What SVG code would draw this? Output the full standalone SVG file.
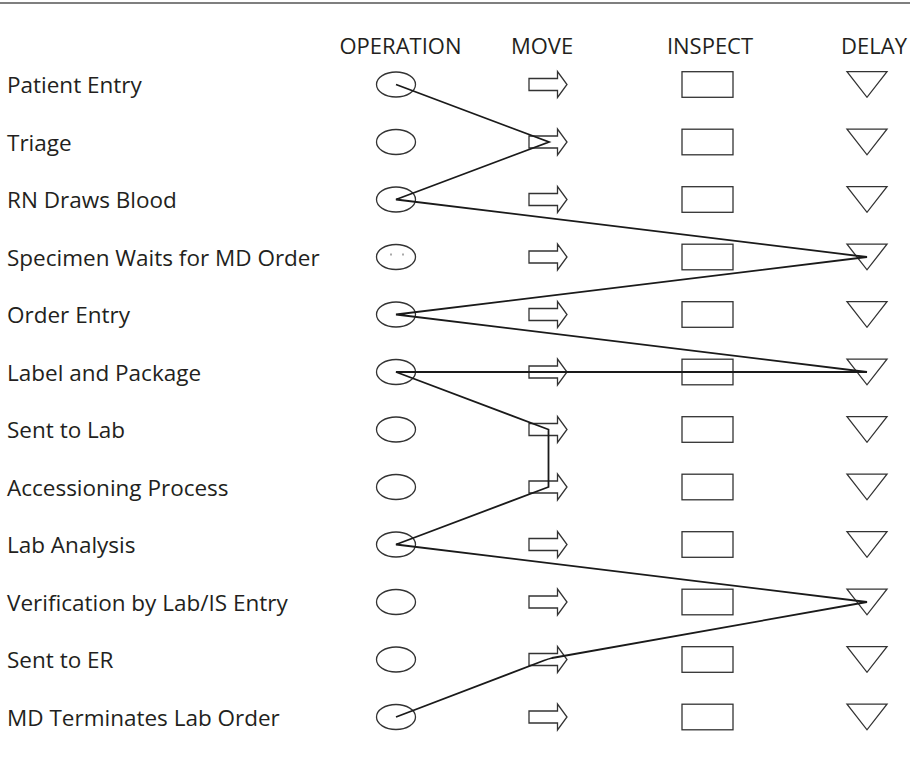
<svg xmlns="http://www.w3.org/2000/svg" width="910" height="763" viewBox="0 0 910 763">
<style>
.bg{fill:#fff}
.hdr{font-family:"Open Sans","Noto Sans","Liberation Sans",sans-serif;font-size:22px;fill:#231f20;text-anchor:middle}
.lbl{font-family:"Open Sans","Noto Sans","Liberation Sans",sans-serif;font-size:22.5px;fill:#231f20}
.shp{fill:#fff;stroke:#333;stroke-width:1.3}
.conn{fill:none;stroke:#1a1a1a;stroke-width:1.8;stroke-linejoin:miter}
</style>
<defs>
<ellipse id="op" cx="0" cy="0" rx="19.5" ry="12.5" class="shp"/>
<rect id="in" x="-25.5" y="-12.8" width="51" height="25.6" class="shp"/>
<polygon id="dl" points="-20,-12.8 20,-12.8 0,12.8" class="shp"/>
<polygon id="arrow" points="-19,-6 9.5,-6 9.5,-13 19,0 9.5,13 9.5,6 -19,6" class="shp"/>
</defs>
<rect class="bg" x="0" y="0" width="910" height="763"/>
<line x1="0" y1="3" x2="910" y2="3" stroke="#555" stroke-width="1.6"/>
<g id="headers">
<text class="hdr" x="400.5" y="53.5">OPERATION</text>
<text class="hdr" x="542" y="53.5">MOVE</text>
<text class="hdr" x="710" y="53.5">INSPECT</text>
<text class="hdr" x="874" y="53.5">DELAY</text>
</g>
<g id="row1" transform="translate(0,84.5)"><text class="lbl" x="7" y="8.5">Patient Entry</text><use href="#op" x="396"/><use href="#arrow" x="548"/><use href="#in" x="707.5"/><use href="#dl" x="867"/></g>
<g id="row2" transform="translate(0,142)"><text class="lbl" x="7" y="8.5">Triage</text><use href="#op" x="396"/><use href="#arrow" x="548"/><use href="#in" x="707.5"/><use href="#dl" x="867"/></g>
<g id="row3" transform="translate(0,199.5)"><text class="lbl" x="7" y="8.5">RN Draws Blood</text><use href="#op" x="396"/><use href="#arrow" x="548"/><use href="#in" x="707.5"/><use href="#dl" x="867"/></g>
<g id="row4" transform="translate(0,257)"><text class="lbl" x="7" y="8.5">Specimen Waits for MD Order</text><use href="#op" x="396"/><line x1="391" y1="-3.5" x2="391" y2="-1.5" stroke="#555" stroke-width="1"/><line x1="403" y1="-3.5" x2="403" y2="-1.5" stroke="#555" stroke-width="1"/><use href="#arrow" x="548"/><use href="#in" x="707.5"/><use href="#dl" x="867"/></g>
<g id="row5" transform="translate(0,314.5)"><text class="lbl" x="7" y="8.5">Order Entry</text><use href="#op" x="396"/><use href="#arrow" x="548"/><use href="#in" x="707.5"/><use href="#dl" x="867"/></g>
<g id="row6" transform="translate(0,372)"><text class="lbl" x="7" y="8.5">Label and Package</text><use href="#op" x="396"/><use href="#arrow" x="548"/><use href="#in" x="707.5"/><use href="#dl" x="867"/></g>
<g id="row7" transform="translate(0,429.5)"><text class="lbl" x="7" y="8.5">Sent to Lab</text><use href="#op" x="396"/><use href="#arrow" x="548"/><use href="#in" x="707.5"/><use href="#dl" x="867"/></g>
<g id="row8" transform="translate(0,487)"><text class="lbl" x="7" y="8.5">Accessioning Process</text><use href="#op" x="396"/><use href="#arrow" x="548"/><use href="#in" x="707.5"/><use href="#dl" x="867"/></g>
<g id="row9" transform="translate(0,544.5)"><text class="lbl" x="7" y="8.5">Lab Analysis</text><use href="#op" x="396"/><use href="#arrow" x="548"/><use href="#in" x="707.5"/><use href="#dl" x="867"/></g>
<g id="row10" transform="translate(0,602)"><text class="lbl" x="7" y="8.5">Verification by Lab/IS Entry</text><use href="#op" x="396"/><use href="#arrow" x="548"/><use href="#in" x="707.5"/><use href="#dl" x="867"/></g>
<g id="row11" transform="translate(0,659.5)"><text class="lbl" x="7" y="8.5">Sent to ER</text><use href="#op" x="396"/><use href="#arrow" x="548"/><use href="#in" x="707.5"/><use href="#dl" x="867"/></g>
<g id="row12" transform="translate(0,717)"><text class="lbl" x="7" y="8.5">MD Terminates Lab Order</text><use href="#op" x="396"/><use href="#arrow" x="548"/><use href="#in" x="707.5"/><use href="#dl" x="867"/></g>
<g id="connectors">
<path class="conn" d="M396,84.5 L549,142 L396,199.5 L867,257 L396,314.5 L867,372 L396,372 L548.5,429.5 L548.5,487 L396,544.5 L867,602 L552,658 Q548,659 544,660.5 L396,717"/>
</g>
</svg>
